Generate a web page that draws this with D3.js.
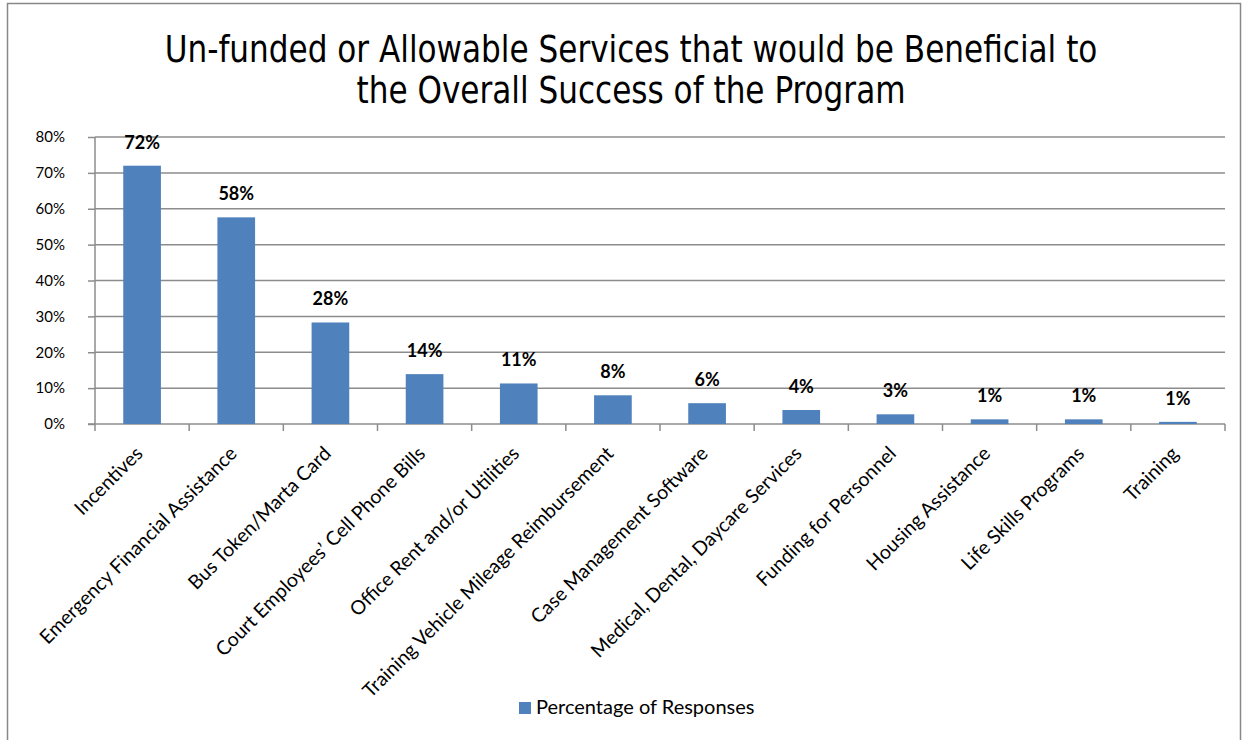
<!DOCTYPE html>
<html>
<head>
<meta charset="utf-8">
<script src="https://cdnjs.cloudflare.com/ajax/libs/d3/7.8.5/d3.min.js"></script>
<style>
  body { margin: 0; background: #fff; }
  .title { font-family: "DejaVu Sans", sans-serif; font-stretch: condensed; font-size: 38px; fill: #000; }
  .ytick text { font-family: Lato, "Open Sans", sans-serif; font-size: 15px; fill: #000; }
  .cat { font-family: Lato, "Open Sans", sans-serif; font-size: 19.5px; fill: #000; }
  .value { font-family: Lato, "Open Sans", sans-serif; font-size: 18px; font-weight: bold; fill: #000; }
  .legend { font-family: Lato, "Open Sans", sans-serif; font-size: 20px; fill: #000; }
</style>
</head>
<body>
<div class="chart"></div>
<script>
const WIDTH = 1250;
const HEIGHT = 740;

const MARGIN = { top: 137, right: 25, bottom: 316, left: 95 };
const INNER_WIDTH = WIDTH - MARGIN.left - MARGIN.right;
const INNER_HEIGHT = HEIGHT - MARGIN.top - MARGIN.bottom;

var categories = [
    "Incentives",
    "Emergency Financial Assistance",
    "Bus Token/Marta Card",
    "Court Employees\u2019 Cell Phone Bills",
    "Office Rent and/or Utilities",
    "Training Vehicle Mileage Reimbursement",
    "Case Management Software",
    "Medical, Dental, Daycare Services",
    "Funding for Personnel",
    "Housing Assistance",
    "Life Skills Programs",
    "Training"
];
var responses = [0.72, 0.576, 0.283, 0.139, 0.113, 0.08, 0.058, 0.039, 0.027, 0.013, 0.013, 0.006];
var yTicks = [0, 0.1, 0.2, 0.3, 0.4, 0.5, 0.6, 0.7, 0.8];
var titleLines = ["Un-funded or Allowable Services that would be Beneficial to", "the Overall Success of the Program"];
var seriesName = "Percentage of Responses";

const BAR = "#4f81bd";
const GRID = "#8c8c8c";

var translate = function (x, y) {
    return "translate(" + x + "," + y + ")";
};

var _svg = d3.select('.chart').append('svg')
    .attr('width', WIDTH)
    .attr('height', HEIGHT);

// outer frame
_svg.append('rect')
    .attr('x', 7.5).attr('y', 3.5)
    .attr('width', 1233).attr('height', 760)
    .attr('fill', 'none')
    .attr('stroke', '#888')
    .attr('stroke-width', 1.5);

// title, squeezed to the condensed look of the original
_svg.selectAll('text.title').data(titleLines)
    .enter().append('text')
    .attr('class', 'title')
    .attr('text-anchor', 'middle')
    .attr('transform', function (d, i) { return translate(631, 62 + i * 41) + ' scale(0.91,1)'; })
    .text(function (d) { return d; });

var _xScale = d3.scaleBand()
    .domain(categories)
    .range([0, INNER_WIDTH])
    .paddingInner(0.6)
    .paddingOuter(0.3);

var _yScale = d3.scaleLinear()
    .domain([0, 0.8])
    .range([INNER_HEIGHT, 0]);

var g = _svg.append('g').attr('transform', translate(MARGIN.left, MARGIN.top));

// horizontal gridlines
g.append('g')
    .selectAll('line').data(yTicks.slice(1))
    .enter().append('line')
    .attr('x1', 0).attr('x2', INNER_WIDTH)
    .attr('y1', _yScale).attr('y2', _yScale)
    .attr('stroke', GRID)
    .attr('stroke-width', 1.5);

// y axis
var yAxis = g.append('g')
    .attr('class', 'ytick')
    .call(d3.axisLeft(_yScale).tickValues(yTicks).tickFormat(d3.format('.0%')).tickSize(7).tickPadding(23));
yAxis.selectAll('line, path').attr('stroke', GRID).attr('stroke-width', 1.5);
yAxis.select('.domain').attr('d', 'M0,0V' + INNER_HEIGHT);
yAxis.attr('font-family', null).attr('font-size', null);

// x axis: ticks at band boundaries
var step = _xScale.step();
var xAxis = g.append('g').attr('transform', translate(0, INNER_HEIGHT));
xAxis.append('line')
    .attr('x1', -7).attr('x2', INNER_WIDTH)
    .attr('stroke', GRID).attr('stroke-width', 1.5);
xAxis.selectAll('line.tk').data(d3.range(categories.length + 1))
    .enter().append('line')
    .attr('class', 'tk')
    .attr('x1', function (i) { return i * step; })
    .attr('x2', function (i) { return i * step; })
    .attr('y1', 0).attr('y2', 7)
    .attr('stroke', GRID).attr('stroke-width', 1.5);

xAxis.selectAll('text').data(categories)
    .enter().append('text')
    .attr('class', 'cat')
    .attr('transform', function (d) {
        return translate(_xScale(d) + _xScale.bandwidth() / 2 - 3, 26) + ' rotate(-45)';
    })
    .attr('text-anchor', 'end')
    .attr('dy', '0.35em')
    .text(function (d) { return d; });

// bars
g.selectAll('rect.bar').data(responses)
    .enter().append('rect')
    .attr('class', 'bar')
    .attr('x', function (d, i) { return _xScale(categories[i]); })
    .attr('width', _xScale.bandwidth())
    .attr('y', function (d) { return _yScale(d); })
    .attr('height', function (d) { return INNER_HEIGHT - _yScale(d); })
    .attr('fill', BAR);

// value labels
g.selectAll('text.value').data(responses)
    .enter().append('text')
    .attr('class', 'value')
    .attr('x', function (d, i) { return _xScale(categories[i]) + _xScale.bandwidth() / 2; })
    .attr('y', function (d) { return _yScale(d) - 17; })
    .attr('text-anchor', 'middle')
    .text(function (d) { return d3.format('.0%')(d); });

// legend
var legend = _svg.append('g').attr('transform', translate(519, 702));
legend.append('rect')
    .attr('width', 12).attr('height', 12)
    .attr('fill', BAR);
legend.append('text')
    .attr('class', 'legend')
    .attr('x', 17).attr('y', 12)
    .text(seriesName);
</script>
</body>
</html>
